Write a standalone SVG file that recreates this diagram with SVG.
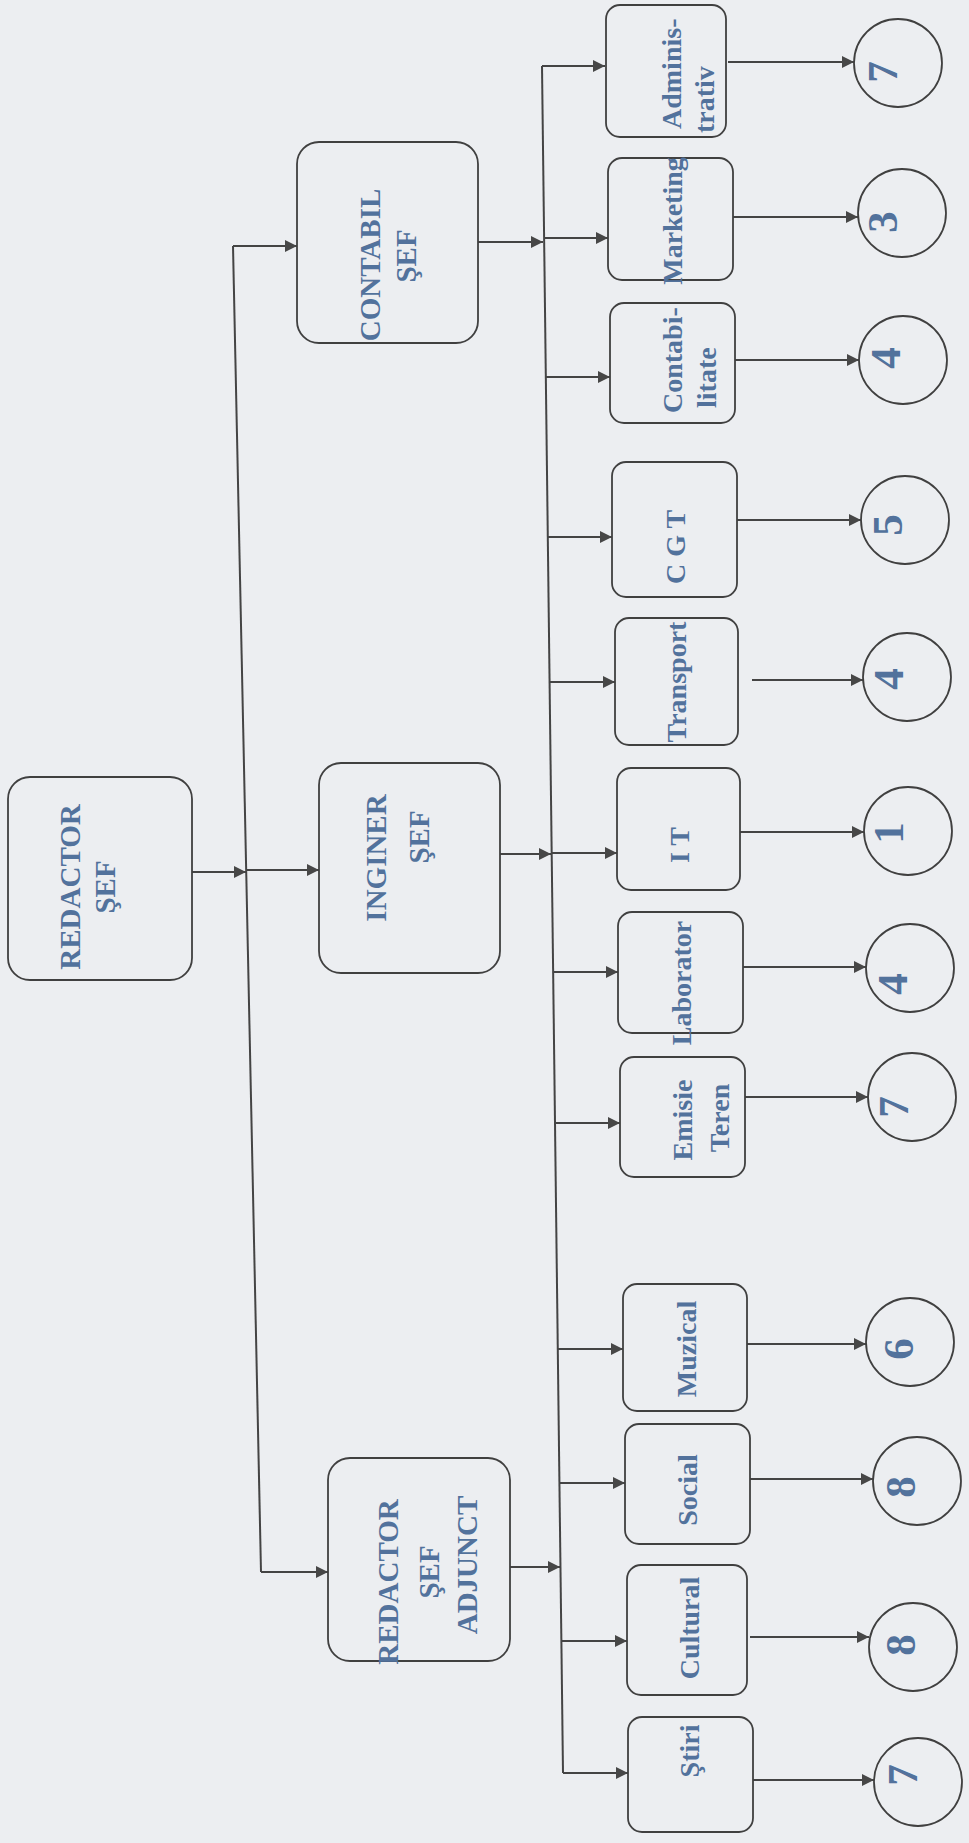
<svg xmlns="http://www.w3.org/2000/svg" width="969" height="1843" viewBox="0 0 969 1843">
<defs>
<marker id="ah" viewBox="0 0 10 10" refX="10" refY="5" markerWidth="15" markerHeight="12" markerUnits="userSpaceOnUse" orient="auto"><path d="M0,0 L10,5 L0,10 z" fill="#474747"/></marker>
<style>
.bx{fill:none;stroke:#404040;stroke-width:1.8}
.c{fill:none;stroke:#404040;stroke-width:1.8}
.ln{fill:none;stroke:#444;stroke-width:2}
.ar{fill:none;stroke:#444;stroke-width:2;marker-end:url(#ah)}
.t{font-family:"Liberation Serif","Times New Roman",serif;font-weight:bold;fill:#52729c;text-anchor:middle}
.t1{font-size:29px}
.t3{font-size:28px}
.s{text-anchor:start}
.d{font-size:43px}
</style>
</defs>
<rect x="0" y="0" width="969" height="1843" fill="#eceef1"/>

<g id="connectors">
<line class="ln" x1="233" y1="246" x2="261" y2="1572"/>
<line class="ln" x1="542" y1="66" x2="563" y2="1773"/>
<line class="ar" x1="192" y1="872" x2="246" y2="872"/>
<line class="ar" x1="247" y1="870" x2="319" y2="870"/>
<line class="ar" x1="233" y1="246" x2="297" y2="246"/>
<line class="ar" x1="261" y1="1572" x2="328" y2="1572"/>
<line class="ar" x1="478" y1="242" x2="543" y2="242"/>
<line class="ar" x1="500" y1="854" x2="551" y2="854"/>
<line class="ar" x1="510" y1="1567" x2="560" y2="1567"/>
<line class="ar" x1="542" y1="66" x2="605" y2="66"/>
<line class="ar" x1="544" y1="238" x2="608" y2="238"/>
<line class="ar" x1="546" y1="377" x2="610" y2="377"/>
<line class="ar" x1="548" y1="537" x2="612" y2="537"/>
<line class="ar" x1="550" y1="682" x2="615" y2="682"/>
<line class="ar" x1="552" y1="853" x2="617" y2="853"/>
<line class="ar" x1="553" y1="972" x2="618" y2="972"/>
<line class="ar" x1="555" y1="1123" x2="620" y2="1123"/>
<line class="ar" x1="558" y1="1349" x2="623" y2="1349"/>
<line class="ar" x1="560" y1="1483" x2="625" y2="1483"/>
<line class="ar" x1="562" y1="1641" x2="627" y2="1641"/>
<line class="ar" x1="563" y1="1773" x2="628" y2="1773"/>
<line class="ar" x1="728" y1="62" x2="854" y2="62"/>
<line class="ar" x1="733" y1="217" x2="858" y2="217"/>
<line class="ar" x1="735" y1="360" x2="859" y2="360"/>
<line class="ar" x1="737" y1="520" x2="861" y2="520"/>
<line class="ar" x1="752" y1="680" x2="863" y2="680"/>
<line class="ar" x1="740" y1="832" x2="864" y2="832"/>
<line class="ar" x1="743" y1="967" x2="866" y2="967"/>
<line class="ar" x1="745" y1="1097" x2="868" y2="1097"/>
<line class="ar" x1="747" y1="1344" x2="866" y2="1344"/>
<line class="ar" x1="750" y1="1479" x2="873" y2="1479"/>
<line class="ar" x1="750" y1="1637" x2="869" y2="1637"/>
<line class="ar" x1="753" y1="1780" x2="874" y2="1780"/>
</g>

<g id="redactor-sef">
<rect class="bx" x="8" y="777" width="184" height="203" rx="22"/>
<text class="t t1" transform="translate(80,887) rotate(-90)">REDACTOR</text>
<text class="t t1" transform="translate(115,887) rotate(-90)">ŞEF</text>
</g>
<g id="contabil-sef">
<rect class="bx" x="297" y="142" width="181" height="201" rx="22"/>
<text class="t t1" transform="translate(380,265) rotate(-90)">CONTABIL</text>
<text class="t t1" transform="translate(416,256) rotate(-90)">ŞEF</text>
</g>
<g id="inginer-sef">
<rect class="bx" x="319" y="763" width="181" height="210" rx="22"/>
<text class="t t1" transform="translate(386,858) rotate(-90)">INGINER</text>
<text class="t t1" transform="translate(429,837) rotate(-90)">ŞEF</text>
</g>
<g id="redactor-sef-adjunct">
<rect class="bx" x="328" y="1458" width="182" height="203" rx="22"/>
<text class="t t1" transform="translate(398,1582) rotate(-90)">REDACTOR</text>
<text class="t t1" transform="translate(439,1572) rotate(-90)">ŞEF</text>
<text class="t t1" transform="translate(477,1565) rotate(-90)">ADJUNCT</text>
</g>

<g id="administrativ">
<rect class="bx" x="606" y="5" width="120" height="132" rx="14"/>
<text class="t t3 s" transform="translate(681,129) rotate(-90)">Adminis-</text>
<text class="t t3 s" transform="translate(714,133) rotate(-90)">trativ</text>
</g>
<g id="marketing">
<rect class="bx" x="608" y="158" width="125" height="122" rx="14"/>
<text class="t t3" transform="translate(682,221) rotate(-90)">Marketing</text>
</g>
<g id="contabilitate">
<rect class="bx" x="610" y="303" width="125" height="120" rx="14"/>
<text class="t t3 s" transform="translate(682,413) rotate(-90)">Contabi-</text>
<text class="t t3 s" transform="translate(716,408) rotate(-90)">litate</text>
</g>
<g id="cgt">
<rect class="bx" x="612" y="462" width="125" height="135" rx="14"/>
<text class="t t3" transform="translate(685,547) rotate(-90)">C G T</text>
</g>
<g id="transport">
<rect class="bx" x="615" y="618" width="123" height="127" rx="14"/>
<text class="t t3" transform="translate(686,682) rotate(-90)">Transport</text>
</g>
<g id="it">
<rect class="bx" x="617" y="768" width="123" height="122" rx="14"/>
<text class="t t3" transform="translate(689,845) rotate(-90)">I T</text>
</g>
<g id="laborator">
<rect class="bx" x="618" y="912" width="125" height="121" rx="14"/>
<text class="t t3" transform="translate(691,983) rotate(-90)">Laborator</text>
</g>
<g id="emisie-teren">
<rect class="bx" x="620" y="1057" width="125" height="120" rx="14"/>
<text class="t t3" transform="translate(692,1120) rotate(-90)">Emisie</text>
<text class="t t3" transform="translate(729,1118) rotate(-90)">Teren</text>
</g>
<g id="muzical">
<rect class="bx" x="623" y="1284" width="124" height="127" rx="14"/>
<text class="t t3" transform="translate(696,1349) rotate(-90)">Muzical</text>
</g>
<g id="social">
<rect class="bx" x="625" y="1424" width="125" height="120" rx="14"/>
<text class="t t3" transform="translate(697,1490) rotate(-90)">Social</text>
</g>
<g id="cultural">
<rect class="bx" x="627" y="1565" width="120" height="130" rx="14"/>
<text class="t t3" transform="translate(699,1628) rotate(-90)">Cultural</text>
</g>
<g id="stiri">
<rect class="bx" x="628" y="1717" width="125" height="115" rx="14"/>
<text class="t t3" transform="translate(699,1751) rotate(-90)">Ştiri</text>
</g>

<g id="n-administrativ"><circle class="c" cx="898" cy="63" r="44"/><text class="t d" transform="translate(897,72) rotate(-90)">7</text></g>
<g id="n-marketing"><circle class="c" cx="902" cy="213" r="44"/><text class="t d" transform="translate(897,222) rotate(-90)">3</text></g>
<g id="n-contabilitate"><circle class="c" cx="903" cy="360" r="44"/><text class="t d" transform="translate(900,358) rotate(-90)">4</text></g>
<g id="n-cgt"><circle class="c" cx="905" cy="520" r="44"/><text class="t d" transform="translate(902,525) rotate(-90)">5</text></g>
<g id="n-transport"><circle class="c" cx="907" cy="677" r="44"/><text class="t d" transform="translate(903,679) rotate(-90)">4</text></g>
<g id="n-it"><circle class="c" cx="908" cy="831" r="44"/><text class="t d" transform="translate(903,833) rotate(-90)">1</text></g>
<g id="n-laborator"><circle class="c" cx="910" cy="968" r="44"/><text class="t d" transform="translate(907,984) rotate(-90)">4</text></g>
<g id="n-emisie"><circle class="c" cx="912" cy="1097" r="44"/><text class="t d" transform="translate(908,1107) rotate(-90)">7</text></g>
<g id="n-muzical"><circle class="c" cx="910" cy="1342" r="44"/><text class="t d" transform="translate(913,1349) rotate(-90)">6</text></g>
<g id="n-social"><circle class="c" cx="917" cy="1481" r="44"/><text class="t d" transform="translate(915,1487) rotate(-90)">8</text></g>
<g id="n-cultural"><circle class="c" cx="913" cy="1647" r="44"/><text class="t d" transform="translate(915,1645) rotate(-90)">8</text></g>
<g id="n-stiri"><circle class="c" cx="918" cy="1782" r="44"/><text class="t d" transform="translate(917,1775) rotate(-90)">7</text></g>
</svg>
